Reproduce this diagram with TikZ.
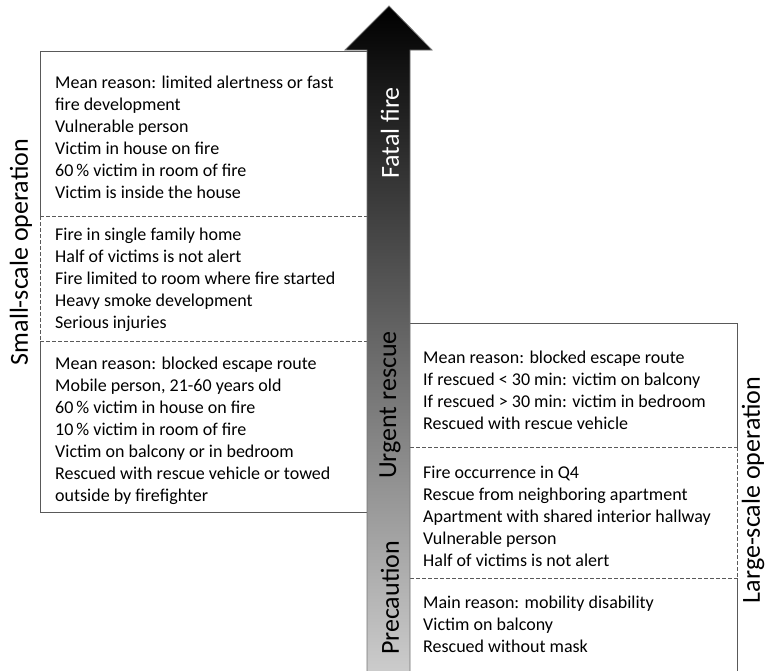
\documentclass[tikz,border=0pt]{standalone}
\usepackage{fontspec}
\setmainfont{Carlito}
\usepackage{tikz}

\begin{document}
\begin{tikzpicture}[x=1pt,y=-1pt,
    boxtext/.style={anchor=west,align=left,inner sep=0pt,font=\fontsize{18}{22}\selectfont},
    sidetext/.style={rotate=90,inner sep=0pt,font=\fontsize{26}{30}\selectfont},
    frame/.style={draw=black!65,line width=1pt},
    split/.style={draw=black!65,line width=1pt,dash pattern=on 3.5pt off 2.5pt}]
    \useasboundingbox (0,0) rectangle (769,670);
    % small-scale box
    \draw[frame] (367,51) -- (40,51) -- (40,216);
    \draw[split] (40,216) -- (40,341);
    \draw[frame] (40,341) -- (40,512) -- (367,512);
    \draw[split] (40,216) -- (367,216);
    \draw[split] (40,341) -- (367,341);
    % large-scale box
    \draw[frame] (410,323) -- (737,323) -- (737,447);
    \draw[split] (737,447) -- (737,578);
    \draw[frame] (737,578) -- (737,671);
    \draw[split] (410,447) -- (737,447);
    \draw[split] (410,578) -- (737,578);
    % arrow
    \shade[top color=black, bottom color=black!20, draw=black!55, line width=0.8pt]
      (367,672) -- (367,50) -- (345,50) -- (389,6) -- (432,50) -- (410,50) -- (410,672) -- cycle;
    \node[sidetext,text=white] (fatal) at (390,133) {Fatal fire};
    \node[sidetext] (urgent) at (390,405) {Urgent rescue};
    \node[sidetext] (precaution) at (390,598) {Precaution};
    \node[sidetext] (small) at (21,252) {Small-scale operation};
    \node[sidetext] (large) at (753,490) {Large-scale operation};
    % texts
    \node[boxtext] (s1) at (55,137) {Mean reason: limited alertness or fast\\fire development\\Vulnerable person\\Victim in house on fire\\60\,\% victim in room of fire\\Victim is inside the house};
    \node[boxtext] (s2) at (55,280) {Fire in single family home\\Half of victims is not alert\\Fire limited to room where fire started\\Heavy smoke development\\Serious injuries};
    \node[boxtext] (s3) at (55,431) {Mean reason: blocked escape route\\Mobile person, 21-60 years old\\60\,\% victim in house on fire\\10\,\% victim in room of fire\\Victim on balcony or in bedroom\\Rescued with rescue vehicle or towed\\outside by firefighter};
    \node[boxtext] (l1) at (423,390) {Mean reason: blocked escape route\\If rescued < 30 min: victim on balcony\\If rescued > 30 min: victim in bedroom\\Rescued with rescue vehicle};
    \node[boxtext] (l2) at (423,516) {Fire occurrence in Q4\\Rescue from neighboring apartment\\Apartment with shared interior hallway\\Vulnerable person\\Half of victims is not alert};
    \node[boxtext] (l3) at (423,624) {Main reason: mobility disability\\Victim on balcony\\Rescued without mask};
\end{tikzpicture}
\end{document}
